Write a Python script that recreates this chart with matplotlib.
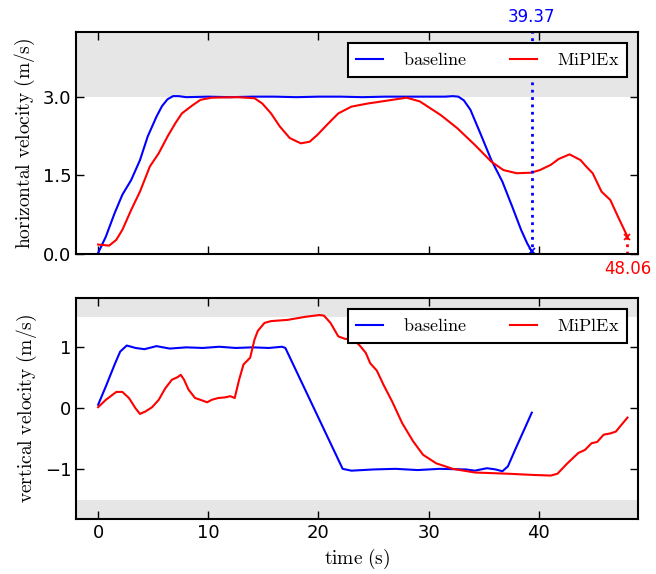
import numpy as np
import matplotlib
import matplotlib.pyplot as plt

matplotlib.use("Agg")
plt.rcParams['mathtext.fontset'] = 'cm'

# horizontal velocity, baseline
t_hb = [0, 0.7, 1.5, 2.2, 3.0, 3.8, 4.5, 5.3, 5.8, 6.3, 6.8, 7.3, 8, 10, 12, 14, 16, 18, 20, 22,
        24, 26, 28, 30, 31.5, 32.2, 32.7, 33.2, 33.8, 34.7, 35.7, 36.7, 37.6, 38.4, 38.96, 39.37]
v_hb = [0.02, 0.33, 0.78, 1.13, 1.41, 1.79, 2.24, 2.62, 2.82, 2.95, 3.01, 3.01, 2.99, 3.0,
        2.99, 3.0, 3.0, 2.99, 3.0, 3.0, 2.99, 3.0, 3.0, 3.0, 3.0, 3.01, 3.0, 2.93, 2.75, 2.30,
        1.79, 1.38, 0.90, 0.46, 0.20, 0.05]

# horizontal velocity, MiPlEx
t_hm = [0, 1, 1.65, 2.2, 3, 3.8, 4.7, 5.5, 6.3, 7.0, 7.6, 8.6, 9.3, 10.3, 12.6, 14.2, 14.9,
        15.7, 16.5, 17.4, 18.4, 19.2, 19.9, 20.9, 21.8, 23, 24.5, 26.1, 28, 29.2, 31.1, 32.6,
        34.2, 35.7, 36.8, 38, 39.3, 40.1, 41.1, 41.8, 42.8, 43.8, 44.3, 44.9, 45.7, 46.5,
        47.2, 48.06]
v_hm = [0.18, 0.16, 0.27, 0.46, 0.84, 1.19, 1.67, 1.92, 2.24, 2.49, 2.68, 2.84, 2.94, 2.98,
        2.99, 2.97, 2.87, 2.68, 2.43, 2.21, 2.11, 2.14, 2.27, 2.49, 2.68, 2.81, 2.87, 2.92,
        2.98, 2.91, 2.65, 2.40, 2.08, 1.76, 1.60, 1.54, 1.55, 1.60, 1.70, 1.81, 1.90, 1.79,
        1.67, 1.54, 1.19, 1.03, 0.71, 0.33]

# vertical velocity, baseline
t_vb = [0, 0.7, 1.5, 2.0, 2.6, 3.4, 4.2, 5.3, 6.5, 8, 9.5, 11, 12.5, 14, 15.5, 16.7, 17.0,
        22.2, 23, 25, 27, 29, 31, 33.4, 34.2, 35.3, 36.1, 36.7, 37.2, 38, 38.8, 39.37]
v_vb = [0.06, 0.36, 0.72, 0.93, 1.03, 0.99, 0.97, 1.02, 0.98, 1.0, 0.99, 1.01, 0.99, 1.0,
        0.99, 1.01, 0.99, -0.99, -1.02, -1.0, -0.99, -1.01, -0.99, -1.0, -1.02, -0.98, -1.0,
        -1.03, -0.95, -0.62, -0.30, -0.07]

# vertical velocity, MiPlEx
t_vm = [0, 0.7, 1.65, 2.2, 2.8, 3.4, 3.8, 4.3, 4.9, 5.5, 6.1, 6.7, 7.2, 7.5, 7.8, 8.2, 8.8,
        9.3, 9.9, 10.3, 10.9, 11.5, 12.0, 12.4, 12.8, 13.2, 13.8, 14.2, 14.5, 15.1, 15.7, 17.2,
        18.8, 20.1, 20.5, 21.1, 21.8, 22.4, 23.2, 23.8, 24.3, 24.7, 25.3, 25.9, 26.7, 27.6,
        28.6, 29.5, 30.7, 32.2, 34.2, 37.2, 39.5, 41.1, 41.7, 42.6, 43.6, 44.2, 44.8, 45.3,
        45.9, 46.5, 47.0, 48.06]
v_vm = [0.02, 0.14, 0.27, 0.27, 0.17, 0.0, -0.09, -0.05, 0.02, 0.14, 0.33, 0.47, 0.51, 0.55,
        0.47, 0.31, 0.17, 0.14, 0.10, 0.14, 0.17, 0.18, 0.20, 0.17, 0.47, 0.72, 0.83, 1.13,
        1.27, 1.40, 1.43, 1.45, 1.50, 1.53, 1.52, 1.40, 1.18, 1.14, 1.13, 1.02, 0.91, 0.74,
        0.62, 0.39, 0.11, -0.24, -0.54, -0.76, -0.90, -0.99, -1.05, -1.07, -1.09, -1.10,
        -1.07, -0.90, -0.73, -0.68, -0.57, -0.55, -0.43, -0.41, -0.38, -0.15]

t_end_base = 39.37
t_end_mpx = 48.06


def style_axes(ax):
    for s in ax.spines.values():
        s.set_linewidth(1.5)
    ax.tick_params(direction='in', top=True, right=True, length=6, width=1, labelsize=13)


def add_legend(ax):
    leg = ax.legend(loc='upper right', ncol=2, fontsize=13, fancybox=False, framealpha=1,
                    edgecolor='black', handlelength=1.5, handletextpad=1.1,
                    columnspacing=2.4, borderaxespad=0.6, borderpad=0.45)
    leg.get_frame().set_linewidth(1.5)


fig = plt.figure(figsize=(6.56, 5.74), dpi=100)
ax1 = fig.add_axes([0.116, 0.5575, 0.857, 0.3865])
ax2 = fig.add_axes([0.116, 0.096, 0.857, 0.385])

# top: horizontal velocity
ax1.axhspan(3.0, 5.0, color='0.9', lw=0)
ax1.plot(t_hb, v_hb, color='blue', lw=1.5, label=r'$\mathrm{baseline}$')
ax1.plot(t_hm, v_hm, color='red', lw=1.5, label=r'$\mathrm{MiPlEx}$')
ax1.axvline(t_end_base, color='blue', ls=':', lw=2)
ax1.plot([t_end_base], [v_hb[-1]], 'x', color='blue', ms=5, mew=1.2)
ax1.plot([t_end_mpx, t_end_mpx], [0, v_hm[-1]], color='red', ls=':', lw=2)
ax1.plot([t_end_mpx], [v_hm[-1]], 'x', color='red', ms=5, mew=1.2)
ax1.annotate('%.2f' % t_end_base, xy=(t_end_base, 1.0), xycoords=('data', 'axes fraction'),
             xytext=(0, 11), textcoords='offset points', ha='center', va='center',
             color='blue', fontsize=12, annotation_clip=False)
ax1.annotate('%.2f' % t_end_mpx, xy=(t_end_mpx, 0.0), xycoords=('data', 'axes fraction'),
             xytext=(0, -11), textcoords='offset points', ha='center', va='center',
             color='red', fontsize=12, annotation_clip=False)
ax1.set_xlim(-2, 49.04)
ax1.set_ylim(0, 4.23)
ax1.set_yticks([0.0, 1.5, 3.0])
ax1.set_yticklabels(['0.0', '1.5', '3.0'])
ax1.set_xticks([0, 10, 20, 30, 40])
ax1.set_xticklabels([])
ax1.set_ylabel(r'$\mathrm{horizontal\ velocity\ (m/s)}$', fontsize=14)
style_axes(ax1)
add_legend(ax1)

# bottom: vertical velocity
ax2.axhspan(1.5, 3.0, color='0.9', lw=0)
ax2.axhspan(-3.0, -1.5, color='0.9', lw=0)
ax2.plot(t_vb, v_vb, color='blue', lw=1.5, label=r'$\mathrm{baseline}$')
ax2.plot(t_vm, v_vm, color='red', lw=1.5, label=r'$\mathrm{MiPlEx}$')
ax2.set_xlim(-2, 49.04)
ax2.set_ylim(-1.81, 1.81)
ax2.set_yticks([-1, 0, 1])
ax2.set_xticks([0, 10, 20, 30, 40])
ax2.set_xlabel(r'$\mathrm{time\ (s)}$', fontsize=14)
ax2.set_ylabel(r'$\mathrm{vertical\ velocity\ (m/s)}$', fontsize=14)
style_axes(ax2)
add_legend(ax2)

fig.savefig('out.png', dpi=100)
